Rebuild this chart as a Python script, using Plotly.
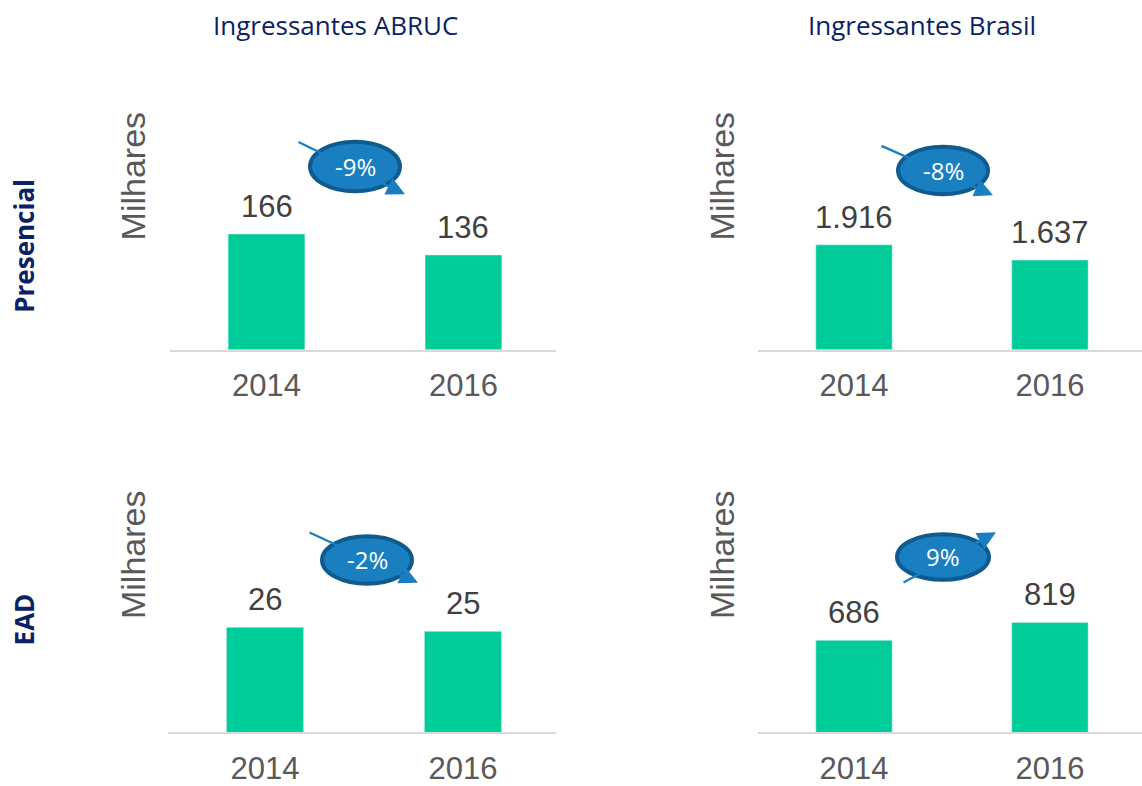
import plotly.graph_objects as go

# ---------------- data ----------------
categories = ["2014", "2016"]
abruc_presencial = [166, 136]
brasil_presencial = [1916, 1637]
abruc_ead = [26, 25]
brasil_ead = [686, 819]
badge_labels = ["-9%", "-8%", "-2%", "9%"]
column_titles = ["Ingressantes ABRUC", "Ingressantes Brasil"]
row_titles = ["Presencial", "EAD"]
axis_title = "Milhares"

W, H = 1142, 786
BAR = "#00cc99"
NAVY = "#0b2266"
GREY = "#595959"
DARK = "#404040"
BADGE_FILL = "#1a7fc1"
BADGE_LINE = "#0f5b8f"


def px(x):
    return x / W


def py(y):
    return 1 - y / H


fig = go.Figure()

panels = [
    # (values, xdomain px, ydomain px, ymax)
    (abruc_presencial, (170, 556), (103, 353), 355),
    (brasil_presencial, (758, 1142), (103, 353), 4520),
    (abruc_ead, (168, 556), (489, 739), 61.3),
    (brasil_ead, (758, 1142), (489, 739), 1845),
]

for i, (vals, xd, yd, ymax) in enumerate(panels):
    n = "" if i == 0 else str(i + 1)
    fig.add_trace(go.Bar(
        x=categories, y=vals, marker_color=BAR, width=0.39,
        xaxis="x" + n, yaxis="y" + n, showlegend=False, hoverinfo="x+y",
    ))
    fig.update_layout(**{
        "xaxis" + n: dict(
            domain=[px(xd[0]), px(xd[1])], anchor="y" + n,
            type="category", range=[-0.49, 1.47],
            showline=True, linecolor="#d9d9d9", linewidth=2,
            showgrid=False, zeroline=False, ticks="",
            tickfont=dict(family="Liberation Sans", size=31, color=GREY),
            ticklabelstandoff=7,
        ),
        "yaxis" + n: dict(
            domain=[py(yd[1]), py(yd[0])], anchor="x" + n,
            range=[0, ymax], visible=False, showgrid=False, zeroline=False,
        ),
    })
    for j, v in enumerate(vals):
        fig.add_annotation(
            x=j, y=v, xref="x" + n, yref="y" + n,
            text=f"{v:,}".replace(",", "."), showarrow=False,
            yanchor="bottom", yshift=8,
            font=dict(family="Liberation Sans", size=31, color=DARK),
        )

# "Milhares" axis titles
for (xc, yc) in [(133, 178), (722, 178), (133, 560), (722, 560)]:
    fig.add_annotation(
        x=px(xc), y=py(yc), xref="paper", yref="paper", text=axis_title,
        textangle=-90, showarrow=False, xanchor="center", yanchor="middle",
        font=dict(family="Liberation Sans", size=34, color=GREY),
    )

# column titles
for t, xc in zip(column_titles, (335, 922)):
    fig.add_annotation(
        x=px(xc), y=py(25), xref="paper", yref="paper", text=t,
        showarrow=False, xanchor="center", yanchor="middle",
        font=dict(family="Open Sans", size=26, color=NAVY),
    )

# row titles
for t, yc in zip(row_titles, (248, 625)):
    fig.add_annotation(
        x=px(24), y=py(yc), xref="paper", yref="paper",
        text=f"<b>{t}</b>", textangle=-90,
        showarrow=False, xanchor="center", yanchor="middle",
        font=dict(family="Open Sans", size=26, color=NAVY),
    )

# growth badges: ellipse centre, radii, arrow tail, arrow head (pixels)
badges = [
    ((355, 168), (45, 25), (297, 143), (405, 196)),
    ((943, 172), (45, 24), (880, 147), (993, 197)),
    ((367, 565), (45, 24), (308, 537), (418, 588)),
    ((943, 562), (46, 23), (902, 588), (996, 537)),
]
for lab, (c, r, tail, head) in zip(badge_labels, badges):
    fig.add_annotation(
        x=px(head[0]), y=py(head[1]), xref="paper", yref="paper",
        ax=tail[0] - head[0], ay=tail[1] - head[1],
        text="", showarrow=True, arrowhead=2, arrowsize=1.6,
        arrowwidth=2.3, arrowcolor=BADGE_FILL, standoff=0,
    )
    fig.add_shape(
        type="circle", xref="paper", yref="paper",
        x0=px(c[0] - r[0]), x1=px(c[0] + r[0]),
        y0=py(c[1] + r[1]), y1=py(c[1] - r[1]),
        fillcolor=BADGE_FILL, line=dict(color=BADGE_LINE, width=4),
        layer="above",
    )
    fig.add_annotation(
        x=px(c[0]), y=py(c[1]), xref="paper", yref="paper", text=lab,
        showarrow=False, xanchor="center", yanchor="middle",
        font=dict(family="Open Sans", size=24, color="white"),
    )

fig.update_layout(
    width=W, height=H, margin=dict(l=0, r=0, t=0, b=0),
    paper_bgcolor="white", plot_bgcolor="white", bargap=0.5,
)

fig.write_html(
    "out.html",
    config={"displayModeBar": False},
    post_script="document.body.style.margin='0';",
)
